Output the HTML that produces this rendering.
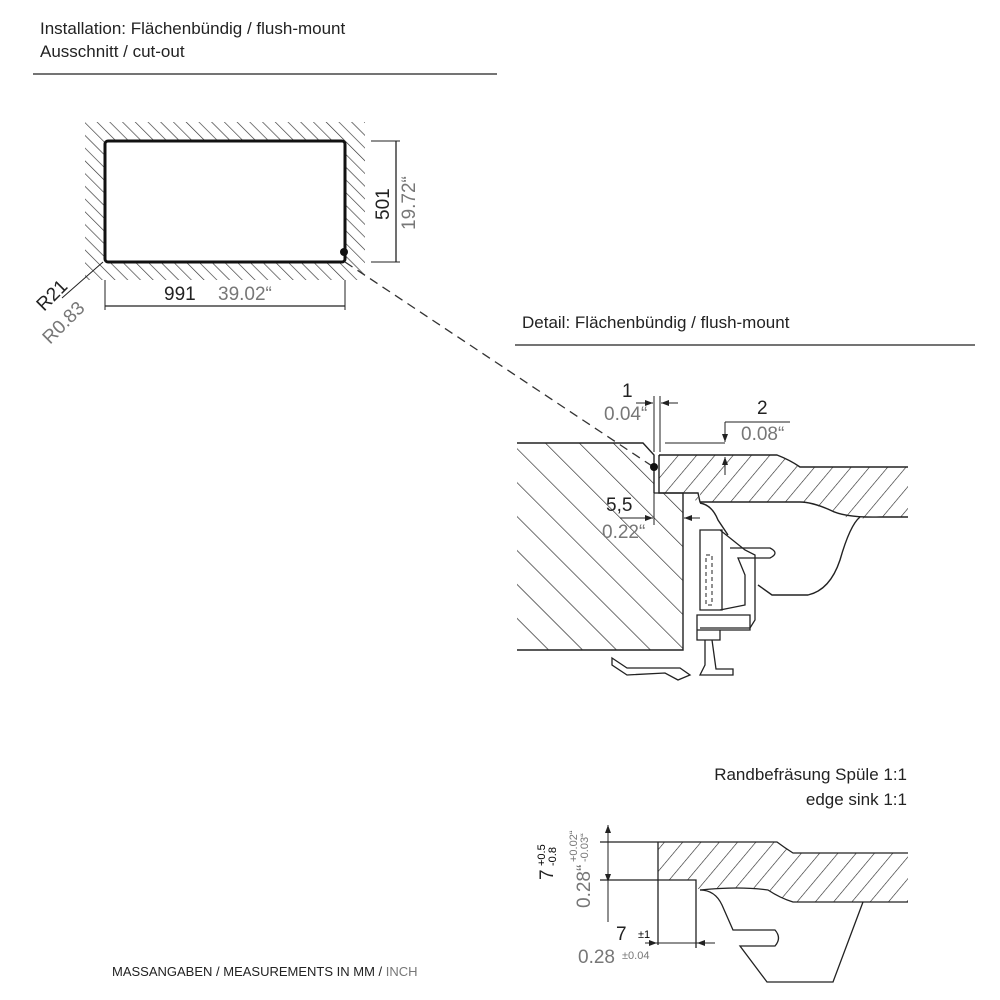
<!DOCTYPE html>
<html><head><meta charset="utf-8"><style>
html,body{margin:0;padding:0;background:#fff}
svg{display:block}
text{font-family:"Liberation Sans",sans-serif}
.t{font-size:17px;fill:#222}
.d{font-size:19px;fill:#222}
.g{fill:#777}
</style></head><body>
<svg width="1000" height="1000" viewBox="0 0 1000 1000" xmlns="http://www.w3.org/2000/svg">
<defs>
<pattern id="h1" width="9" height="9" patternUnits="userSpaceOnUse" patternTransform="rotate(-45)">
<line x1="0" y1="0" x2="0" y2="9" stroke="#333" stroke-width="1.3"/></pattern>
<pattern id="h2" width="24" height="24" patternUnits="userSpaceOnUse" patternTransform="rotate(-45)">
<line x1="0" y1="0" x2="0" y2="24" stroke="#222" stroke-width="1.3"/></pattern>
<pattern id="h3" width="14" height="14" patternUnits="userSpaceOnUse" patternTransform="rotate(40)">
<line x1="0" y1="0" x2="0" y2="14" stroke="#222" stroke-width="1.2"/></pattern>
<marker id="a" markerWidth="8" markerHeight="6" refX="8" refY="3" orient="auto" markerUnits="userSpaceOnUse"><path d="M0,0 L8,3 L0,6z" fill="#222"/></marker>
</defs>

<text x="40" y="34" class="t">Installation: Flächenbündig / flush-mount</text>
<text x="40" y="57" class="t">Ausschnitt / cut-out</text>
<line x1="33" y1="74" x2="497" y2="74" stroke="#222" stroke-width="1.3"/>

<path d="M85,122 H365 V280 H85 Z M105,141 V262 H345 V141 Z" fill="url(#h1)" fill-rule="evenodd"/>
<rect x="105" y="141" width="240" height="121" rx="3" fill="#fff" stroke="#111" stroke-width="3"/>
<circle cx="344" cy="252" r="4" fill="#111"/>
<line x1="345" y1="262" x2="655" y2="468" stroke="#333" stroke-width="1.3" stroke-dasharray="9,6"/>
<line x1="105" y1="280" x2="105" y2="310" stroke="#222"/>
<line x1="345" y1="280" x2="345" y2="310" stroke="#222"/>
<line x1="105" y1="306" x2="345" y2="306" stroke="#222" stroke-width="1.3"/>
<text x="164" y="300" class="d">991</text><text x="218" y="300" class="d g">39.02“</text>
<line x1="371" y1="141" x2="400" y2="141" stroke="#222"/>
<line x1="371" y1="262" x2="400" y2="262" stroke="#222"/>
<line x1="396" y1="141" x2="396" y2="262" stroke="#222" stroke-width="1.3"/>
<text transform="translate(389,220) rotate(-90)" class="d">501</text>
<text transform="translate(415,230) rotate(-90)" class="d g">19.72“</text>
<line x1="103" y1="262" x2="62" y2="298" stroke="#222"/>
<text transform="translate(44,312) rotate(-45)" class="d">R21</text>
<text transform="translate(50,345) rotate(-45)" class="d g">R0.83</text>

<text x="522" y="328" class="t">Detail: Flächenbündig / flush-mount</text>
<line x1="515" y1="345" x2="975" y2="345" stroke="#222" stroke-width="1.3"/>

<path d="M517,443 H643 L654,455 V493 H683 V650 H517 Z" fill="url(#h2)"/>
<path d="M517,443 H643 L654,455 V493 M683,493 V650 H517" fill="none" stroke="#222" stroke-width="1.4"/>
<line x1="654" y1="493" x2="683" y2="493" stroke="#222" stroke-width="1.3"/>
<path d="M659,455 H777 Q790,460 800,467 H908 V517 H880 Q860,520 845,517 Q820,505 800,502 H700 V493 H698 V503 L688,493 H659 Z" fill="url(#h3)"/>
<path d="M659,455 H777 Q790,460 800,467 H908 M908,517 H880 Q845,518 830,510 Q812,502 800,502 H700 L698,493 H659 V455" fill="none" stroke="#222" stroke-width="1.4"/>
<path d="M700,503 Q712,505 718,520 L728,535 M860,517 Q850,525 840,560 Q830,590 808,595 L772,595 L758,585" fill="none" stroke="#222" stroke-width="1.4"/>
<circle cx="654" cy="467" r="4" fill="#111"/>
<path d="M700,530 H722 V610 H700 Z M720,530 L745,550 L755,555 L755,620 L750,628 L700,628" fill="none" stroke="#222" stroke-width="1.3"/>
<path d="M730,548 H770 Q780,553 770,558 H738 L745,575 V605 L720,610" fill="none" stroke="#222" stroke-width="1.3"/>
<path d="M706,555 H712 V605 H706 Z" fill="none" stroke="#222" stroke-dasharray="4,3"/>
<path d="M697,615 H750 V630 H697 Z M697,630 H720 V640 H697 Z" fill="none" stroke="#222" stroke-width="1.3"/>
<path d="M705,640 V665 L700,675 H733 V669 H716 L712,640" fill="none" stroke="#222" stroke-width="1.3"/>
<path d="M612,658 L627,668 H680 L690,675 L678,680 L665,673 L627,675 L612,665 Z" fill="none" stroke="#222" stroke-width="1.3"/>
<line x1="654" y1="396" x2="654" y2="452" stroke="#222"/>
<line x1="660" y1="396" x2="660" y2="452" stroke="#222"/>
<line x1="636" y1="403" x2="653" y2="403" stroke="#222" marker-end="url(#a)"/>
<line x1="678" y1="403" x2="661" y2="403" stroke="#222" marker-end="url(#a)"/>
<text x="622" y="397" class="d">1</text><text x="604" y="420" class="d g">0.04“</text>
<line x1="665" y1="443" x2="725" y2="443" stroke="#222"/>
<path d="M725,422 H790" stroke="#222"/>
<line x1="725" y1="422" x2="725" y2="442" stroke="#222" marker-end="url(#a)"/>
<line x1="725" y1="475" x2="725" y2="457" stroke="#222" marker-end="url(#a)"/>
<text x="757" y="414" class="d">2</text><text x="741" y="440" class="d g">0.08“</text>
<line x1="654" y1="493" x2="654" y2="525" stroke="#222"/>
<line x1="620" y1="518" x2="653" y2="518" stroke="#222" marker-end="url(#a)"/>
<line x1="700" y1="518" x2="684" y2="518" stroke="#222" marker-end="url(#a)"/>
<text x="606" y="511" class="d">5,5</text><text x="602" y="538" class="d g">0.22“</text>

<text x="907" y="780" class="t" text-anchor="end">Randbefräsung Spüle 1:1</text>
<text x="907" y="805" class="t" text-anchor="end">edge sink 1:1</text>
<path d="M658,842 H777 Q785,848 793,853 H908 V902 H793 Q780,898 768,890 Q750,886 696,889 V880 H658 Z" fill="url(#h3)"/>
<path d="M600,842 H777 Q785,848 793,853 H908 M908,902 H793 Q780,898 768,890 Q740,886 700,890 M600,880 H696 V889 M658,842 V945 M696,880 V948" fill="none" stroke="#222" stroke-width="1.3"/>
<path d="M700,890 Q715,890 722,905 L733,930 H775 Q782,938 775,946 H740 L767,982 H833 L863,902" fill="none" stroke="#222" stroke-width="1.3"/>
<line x1="608" y1="880" x2="608" y2="825" stroke="#222" marker-end="url(#a)"/>
<line x1="608" y1="842" x2="608" y2="922" stroke="#222"/>
<line x1="608" y1="860" x2="608" y2="882" stroke="#222" marker-end="url(#a)"/>
<line x1="645" y1="943" x2="657" y2="943" stroke="#222" marker-end="url(#a)"/>
<line x1="715" y1="943" x2="697" y2="943" stroke="#222" marker-end="url(#a)"/>
<line x1="645" y1="943" x2="715" y2="943" stroke="#222"/>
<text x="616" y="940" class="d">7</text><text x="638" y="938" style="font-size:11px">±1</text>
<text x="578" y="963" class="d g">0.28</text><text x="622" y="959" class="g" style="font-size:11px">±0.04</text>
<text transform="translate(553,880) rotate(-90)" class="d">7</text>
<text transform="translate(545,866) rotate(-90)" style="font-size:11px">+0.5</text>
<text transform="translate(556,866) rotate(-90)" style="font-size:11px">-0.8</text>
<text transform="translate(590,908) rotate(-90)" class="d g">0.28“</text>
<text transform="translate(577,862) rotate(-90)" class="g" style="font-size:11px">+0.02“</text>
<text transform="translate(588,862) rotate(-90)" class="g" style="font-size:11px">-0.03“</text>

<text x="112" y="976" style="font-size:13px;fill:#222">MASSANGABEN / MEASUREMENTS IN MM / <tspan fill="#777">INCH</tspan></text>
</svg>
</body></html>
